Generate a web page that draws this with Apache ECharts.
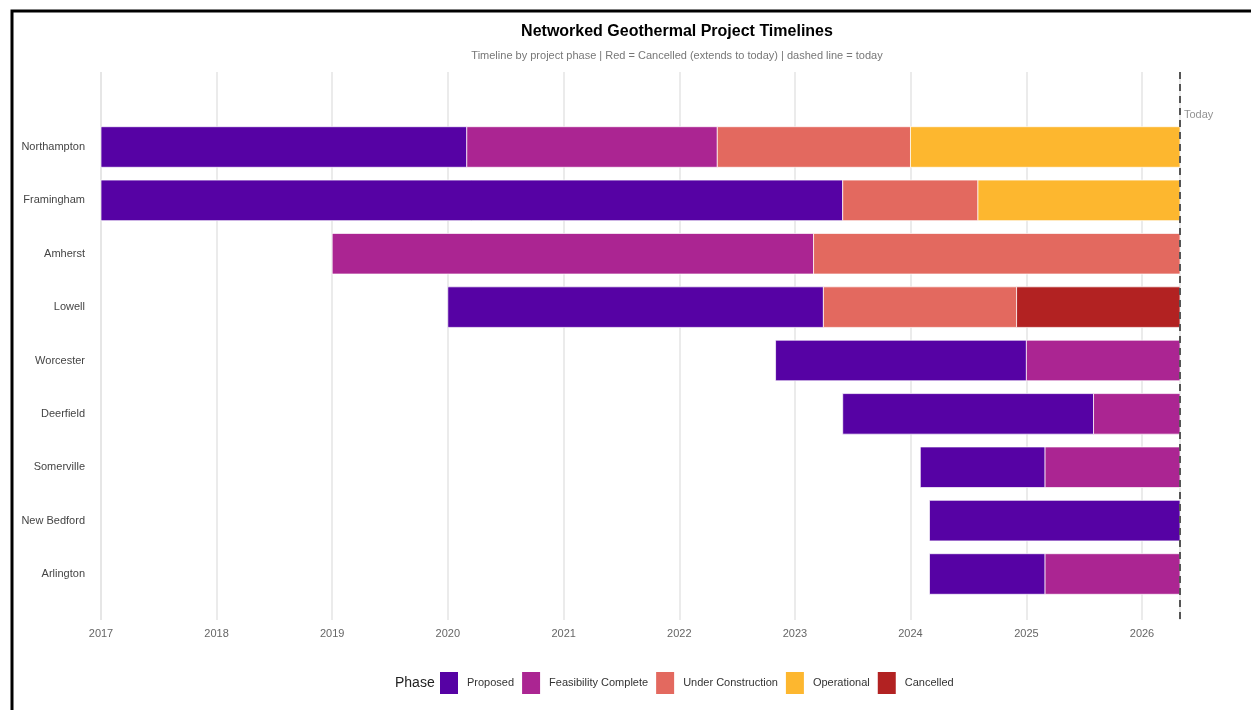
<!DOCTYPE html>
<html>
<head>
<meta charset="utf-8">
<title>Networked Geothermal Project Timelines</title>
<script src="https://cdn.jsdelivr.net/npm/echarts@6/dist/echarts.min.js"></script>
<style>
  html, body { margin: 0; padding: 0; background: #fff; }
  #chart { width: 1251px; height: 710px; }
</style>
</head>
<body>
<div id="chart"></div>
<script>
// projects, top to bottom
const projects = ['Northampton', 'Framingham', 'Amherst', 'Lowell', 'Worcester',
  'Deerfield', 'Somerville', 'New Bedford', 'Arlington']
const today = '2026-05-01'
const phaseNames = ['Proposed', 'Feasibility Complete', 'Under Construction', 'Operational', 'Cancelled']

// [project, start, end] per phase
const proposed = [
  ['Northampton', '2017-01-01', '2020-03-01'],
  ['Framingham', '2017-01-01', '2023-06-01'],
  ['Lowell', '2020-01-01', '2023-04-01'],
  ['Worcester', '2022-11-01', '2025-01-01'],
  ['Deerfield', '2023-06-01', '2025-08-01'],
  ['Somerville', '2024-02-01', '2025-03-01'],
  ['New Bedford', '2024-03-01', today],
  ['Arlington', '2024-03-01', '2025-03-01']
]
const feasibility = [
  ['Northampton', '2020-03-01', '2022-05-01'],
  ['Amherst', '2019-01-01', '2023-03-01'],
  ['Worcester', '2025-01-01', today],
  ['Deerfield', '2025-08-01', today],
  ['Somerville', '2025-03-01', today],
  ['Arlington', '2025-03-01', today]
]
const underConstruction = [
  ['Northampton', '2022-05-01', '2024-01-01'],
  ['Framingham', '2023-06-01', '2024-08-01'],
  ['Amherst', '2023-03-01', today],
  ['Lowell', '2023-04-01', '2024-12-01']
]
const operational = [
  ['Northampton', '2024-01-01', today],
  ['Framingham', '2024-08-01', today]
]
const cancelled = [
  ['Lowell', '2024-12-01', today]
]

const phaseData = [proposed, feasibility, underConstruction, operational, cancelled]
const phaseColors = ['#5602a4', '#ab2592', '#e3695f', '#fdb72f', '#b22222']

const FONT = "'Liberation Sans', Arial, sans-serif"
const DAY = 24 * 3600 * 1000

function renderBar(params, api) {
  const start = api.coord([api.value(0), api.value(2)])
  const end = api.coord([api.value(1), api.value(2)])
  const h = api.size([0, 1])[1] * 0.76
  return {
    type: 'rect',
    shape: { x: start[0], y: start[1] - h / 2, width: end[0] - start[0], height: h },
    style: { fill: api.visual('color'), stroke: 'rgba(255,255,255,0.7)', lineWidth: 1 }
  }
}

const series = phaseNames.map((name, i) => ({
  name: name,
  type: 'custom',
  renderItem: renderBar,
  color: phaseColors[i],
  itemStyle: { color: phaseColors[i] },
  encode: { x: [0, 1], y: 2 },
  data: phaseData[i].map(d => [echarts.time.parse(d[1]).getTime(), echarts.time.parse(d[2]).getTime(), projects.indexOf(d[0])])
}))

// today line + label
series.push({
  name: 'today',
  type: 'scatter',
  symbolSize: 0,
  silent: true,
  data: [[today, -0.6]],
  label: {
    show: true,
    formatter: 'Today',
    position: 'right',
    distance: 4,
    color: '#777',
    fontSize: 11,
    fontFamily: FONT
  },
  markLine: {
    silent: true,
    symbol: 'none',
    label: { show: false },
    lineStyle: { color: '#555', type: [7, 5], width: 2 },
    data: [{ xAxis: today }]
  }
})

const chart = echarts.init(document.getElementById('chart'))
chart.setOption({
  animation: false,
  textStyle: { fontFamily: FONT },
  title: {
    text: 'Networked Geothermal Project Timelines',
    subtext: 'Timeline by project phase | Red = Cancelled (extends to today) | dashed line = today',
    left: 672,
    top: 19,
    textAlign: 'center',
    itemGap: 10,
    textStyle: { fontSize: 16, fontWeight: 'bold', color: '#000', fontFamily: FONT },
    subtextStyle: { fontSize: 11, color: '#777', fontFamily: FONT }
  },
  grid: { left: 101, right: 71, top: 72, bottom: 90 },
  xAxis: {
    type: 'time',
    min: '2017-01-01',
    max: today,
    minInterval: 365 * DAY,
    maxInterval: 366 * DAY,
    axisLine: { show: false },
    axisTick: { show: false },
    axisLabel: {
      color: '#666',
      fontSize: 11,
      margin: 8,
      showMaxLabel: false,
      formatter: v => String(new Date(v).getFullYear())
    },
    splitLine: { show: true, lineStyle: { color: '#e5e5e5', width: 1.5 } }
  },
  yAxis: {
    type: 'value',
    inverse: true,
    min: -1.405,
    max: 8.862,
    axisLine: { show: false },
    axisTick: { show: false },
    splitLine: { show: false },
    axisLabel: {
      customValues: projects.map((p, i) => i),
      formatter: v => projects[Math.round(v)] || '',
      color: '#444',
      fontSize: 11,
      margin: 16
    }
  },
  legend: {
    data: phaseNames,
    left: 440,
    top: 672,
    padding: 0,
    icon: 'rect',
    itemWidth: 18,
    itemHeight: 22,
    itemGap: 8,
    textStyle: { fontSize: 11, color: '#333', padding: [0, 0, 0, 4], fontFamily: FONT }
  },
  graphic: [
    {
      type: 'text',
      left: 395,
      top: 676,
      style: { text: 'Phase', fontSize: 14, fill: '#222', fontFamily: FONT }
    },
    {
      type: 'rect',
      silent: true,
      shape: { x: 12, y: 11, width: 1400, height: 800 },
      style: { fill: 'none', stroke: '#000', lineWidth: 3 }
    }
  ],
  series: series
})
</script>
</body>
</html>
